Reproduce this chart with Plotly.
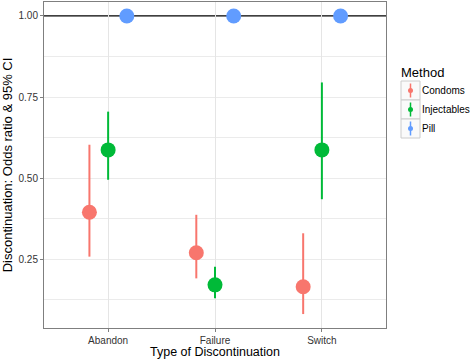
import plotly.graph_objects as go

categories = ["Abandon", "Failure", "Switch"]
methods = ["Condoms", "Injectables", "Pill"]
colors = ["#F8766D", "#00BA38", "#619CFF"]

condoms_or = [0.395, 0.270, 0.165]
condoms_lo = [0.258, 0.191, 0.081]
condoms_hi = [0.603, 0.387, 0.330]

inject_or = [0.587, 0.171, 0.587]
inject_lo = [0.495, 0.130, 0.435]
inject_hi = [0.705, 0.227, 0.795]

pill_or = [1.0, 1.0, 1.0]
pill_lo = [1.0, 1.0, 1.0]
pill_hi = [1.0, 1.0, 1.0]

y_ticks = [0.25, 0.5, 0.75, 1.0]
y_ticktext = ["0.25", "0.50", "0.75", "1.00"]
y_grid = [0.125, 0.25, 0.375, 0.5, 0.625, 0.75, 0.875]

series = [
    (condoms_or, condoms_lo, condoms_hi),
    (inject_or, inject_lo, inject_hi),
    (pill_or, pill_lo, pill_hi),
]

font_family = "Liberation Sans, Arial, sans-serif"
W, H = 472, 359
ML, MR, MT, MB = 44, 86, 2, 31
PW, PH = W - ML - MR, H - MT - MB


def px(xp):
    return (xp - ML) / PW


def py(yp):
    return (H - MB - yp) / PH


fig = go.Figure()
for name, col, (y, lo, hi) in zip(methods, colors, series):
    fig.add_trace(go.Scatter(
        x=categories, y=y, name=name, mode="markers",
        offsetgroup=name, showlegend=False, hoverinfo="skip",
        marker=dict(color=col, size=15, line=dict(width=0)),
        error_y=dict(type="data", symmetric=False,
                     array=[h - v for h, v in zip(hi, y)],
                     arrayminus=[v - l for v, l in zip(y, lo)],
                     color=col, thickness=2, width=0),
    ))

fig.add_hline(y=1.0, line=dict(color="black", width=1.2), layer="below")

# x axis title (placed as annotation to sit tight under tick labels)
fig.add_annotation(text="Type of Discontinuation", xref="paper", yref="paper",
                   x=0.5, y=py(352.5), xanchor="center", yanchor="middle",
                   showarrow=False, font=dict(size=12.5, color="black"))

# manual ggplot-style legend
fig.add_annotation(text="Method", xref="paper", yref="paper", x=px(399), y=py(72),
                   xanchor="left", yanchor="middle", showarrow=False,
                   font=dict(size=13, color="black"))
row_centers = [90.5, 109.5, 128.5]
for name, col, yc in zip(methods, colors, row_centers):
    fig.add_shape(type="rect", xref="paper", yref="paper",
                  x0=px(401), x1=px(420), y0=py(yc - 9.5), y1=py(yc + 9.5),
                  line=dict(color="#CCCCCC", width=1), fillcolor="#FAFAFA")
    fig.add_shape(type="line", xref="paper", yref="paper",
                  x0=px(410.5), x1=px(410.5), y0=py(yc - 7), y1=py(yc + 7),
                  line=dict(color=col, width=1.5))
    fig.add_shape(type="circle", xref="paper", yref="paper",
                  x0=px(408), x1=px(413), y0=py(yc - 2.5), y1=py(yc + 2.5),
                  line=dict(color=col, width=0), fillcolor=col)
    fig.add_annotation(text=name, xref="paper", yref="paper", x=px(420), y=py(yc),
                       xanchor="left", yanchor="middle", showarrow=False,
                       font=dict(size=10, color="black"))

fig.update_layout(
    width=W, height=H,
    margin=dict(l=ML, r=MR, t=MT, b=MB, autoexpand=False),
    paper_bgcolor="white", plot_bgcolor="white",
    scattermode="group", scattergap=0.475,
    font=dict(family=font_family, size=10, color="black"),
    showlegend=False,
    hovermode=False,
    xaxis=dict(
        type="category", categoryorder="array", categoryarray=categories,
        range=[-0.6, 2.6], automargin=False,
        showgrid=True, gridcolor="#E5E5E5", gridwidth=1,
        showline=True, linecolor="#7F7F7F", linewidth=1, mirror=True,
        ticks="outside", ticklen=3, tickcolor="#7F7F7F",
        tickfont=dict(size=10, color="#333333"),
        zeroline=False,
    ),
    yaxis=dict(
        range=[0.038, 1.043], automargin=False,
        tickvals=y_ticks, ticktext=y_ticktext,
        title=dict(text="Discontinuation: Odds ratio &amp; 95% CI", font=dict(size=13, color="black"), standoff=2),
        showgrid=False,
        minor=dict(tickvals=y_grid, showgrid=True, gridcolor="#EBEBEB", gridwidth=1, ticks=""),
        showline=True, linecolor="#7F7F7F", linewidth=1, mirror=True,
        ticks="outside", ticklen=3, tickcolor="#7F7F7F",
        tickfont=dict(size=10, color="#333333"),
        zeroline=False,
    ),
)

fig.write_html("out.html", config={"displayModeBar": False, "staticPlot": True},
               post_script="document.body.style.margin='0';document.body.style.padding='0';")
